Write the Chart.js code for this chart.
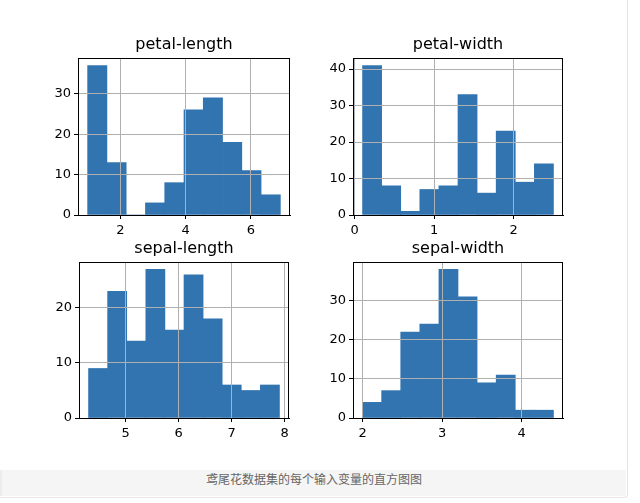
<!DOCTYPE html>
<html>
<head>
<meta charset="utf-8">
<script src="https://cdn.jsdelivr.net/npm/chart.js@4/dist/chart.umd.min.js"></script>
<style>
    body { margin: 0; background: #fff; }
    #page {
        position: relative;
        width: 628px;
        height: 498px;
        border-right: 1px solid #e6e6e6;
        border-bottom: 1px solid #e6e6e6;
        border-radius: 0 0 4px 0;
        box-sizing: border-box;
    }
    #page canvas { position: absolute; }
    #caption {
        position: absolute;
        left: 0;
        top: 470px;
        width: 626px;
        height: 26px;
        background: #f5f5f5;
        border-left: 2px solid #ececec;
        box-sizing: border-box;
        text-align: center;
        line-height: 26px;
        font: 12px "Noto Sans CJK SC", sans-serif;
        color: #666;
    }
</style>
</head>
<body>
<div id="page">
    <canvas id="petalLength" width="264" height="204"></canvas>
    <canvas id="petalWidth" width="262" height="204"></canvas>
    <canvas id="sepalLength" width="262" height="203"></canvas>
    <canvas id="sepalWidth" width="262" height="203"></canvas>
    <div id="caption">鸢尾花数据集的每个输入变量的直方图图</div>
</div>
<script>
// Histogram data (10 bins each)
const petalLengthEdges = [1.0, 1.59, 2.18, 2.77, 3.36, 3.95, 4.54, 5.13, 5.72, 6.31, 6.9];
const petalLengthCounts = [37, 13, 0, 3, 8, 26, 29, 18, 11, 5];
const petalLengthXTicks = [2, 4, 6];
const petalLengthYTicks = [0, 10, 20, 30];

const petalWidthEdges = [0.1, 0.34, 0.58, 0.82, 1.06, 1.3, 1.54, 1.78, 2.02, 2.26, 2.5];
const petalWidthCounts = [41, 8, 1, 7, 8, 33, 6, 23, 9, 14];
const petalWidthXTicks = [0, 1, 2];
const petalWidthYTicks = [0, 10, 20, 30, 40];

const sepalLengthEdges = [4.3, 4.66, 5.02, 5.38, 5.74, 6.1, 6.46, 6.82, 7.18, 7.54, 7.9];
const sepalLengthCounts = [9, 23, 14, 27, 16, 26, 18, 6, 5, 6];
const sepalLengthXTicks = [5, 6, 7, 8];
const sepalLengthYTicks = [0, 10, 20];

const sepalWidthEdges = [2.0, 2.24, 2.48, 2.72, 2.96, 3.2, 3.44, 3.68, 3.92, 4.16, 4.4];
const sepalWidthCounts = [4, 7, 22, 24, 38, 31, 9, 11, 2, 2];
const sepalWidthXTicks = [2, 3, 4];
const sepalWidthYTicks = [0, 10, 20, 30];

// Layout constants
const Y_AXIS_W = 40;
const X_AXIS_H = 24;
const TITLE_H = 23;

Chart.defaults.font.family = "'DejaVu Sans', sans-serif";
Chart.defaults.color = '#000';

// draws the full black frame around the plot area
const framePlugin = {
    id: 'frame',
    afterDraw(chart) {
        const a = chart.chartArea;
        const ctx = chart.ctx;
        ctx.save();
        ctx.strokeStyle = '#000';
        ctx.lineWidth = 1;
        ctx.strokeRect(Math.round(a.left) + 0.5, Math.round(a.top) + 0.5,
            Math.round(a.right - a.left) - 1, Math.round(a.bottom - a.top));
        ctx.restore();
    }
};

function makeHist(id, title, edges, counts, xTicks, yTicks, box) {
    const canvas = document.getElementById(id);
    canvas.style.left = (box.left - Y_AXIS_W) + 'px';
    canvas.style.top = (box.top - TITLE_H) + 'px';

    const bars = counts.map((c, i) => ({ x: (edges[i] + edges[i + 1]) / 2, y: c }));
    const span = edges[edges.length - 1] - edges[0];

    return new Chart(canvas.getContext('2d'), {
        type: 'bar',
        data: {
            datasets: [{
                data: bars,
                backgroundColor: '#3274b0',
                borderWidth: 0,
                barPercentage: 1,
                categoryPercentage: 1
            }]
        },
        options: {
            responsive: false,
            animation: false,
            devicePixelRatio: 1,
            layout: { padding: { right: 12 } },
            plugins: {
                legend: { display: false },
                tooltip: { enabled: false },
                title: {
                    display: true,
                    fullSize: false, // center over the plot area only
                    text: title,
                    color: '#000',
                    font: { size: 16, weight: 'normal', lineHeight: 1.25 },
                    padding: { top: 0, bottom: 3 }
                }
            },
            scales: {
                x: {
                    type: 'linear',
                    offset: false,
                    min: edges[0] - 0.05 * span,
                    max: edges[edges.length - 1] + 0.05 * span,
                    afterBuildTicks: s => { s.ticks = xTicks.map(v => ({ value: v })); },
                    afterFit: s => { s.height = X_AXIS_H; },
                    grid: { offset: false, color: '#b0b0b0', lineWidth: 1, tickColor: '#000', tickLength: 4, z: 1 },
                    border: { color: '#000', z: 1 },
                    ticks: { autoSkip: false, maxRotation: 0, padding: 4, font: { size: 13 }, callback: v => String(v) }
                },
                y: {
                    min: 0,
                    max: Math.max(...counts) * 1.05,
                    afterBuildTicks: s => { s.ticks = yTicks.map(v => ({ value: v })); },
                    afterFit: s => { s.width = Y_AXIS_W; },
                    grid: { color: '#b0b0b0', lineWidth: 1, tickColor: '#000', tickLength: 4, z: 1 },
                    border: { color: '#000', z: 1 },
                    ticks: { padding: 3, font: { size: 13 }, callback: v => String(v) }
                }
            }
        },
        plugins: [framePlugin]
    });
}

makeHist('petalLength', 'petal-length', petalLengthEdges, petalLengthCounts,
    petalLengthXTicks, petalLengthYTicks, { left: 78, top: 58 });
makeHist('petalWidth', 'petal-width', petalWidthEdges, petalWidthCounts,
    petalWidthXTicks, petalWidthYTicks, { left: 353, top: 58 });
makeHist('sepalLength', 'sepal-length', sepalLengthEdges, sepalLengthCounts,
    sepalLengthXTicks, sepalLengthYTicks, { left: 79, top: 262 });
makeHist('sepalWidth', 'sepal-width', sepalWidthEdges, sepalWidthCounts,
    sepalWidthXTicks, sepalWidthYTicks, { left: 353, top: 262 });
</script>
</body>
</html>
